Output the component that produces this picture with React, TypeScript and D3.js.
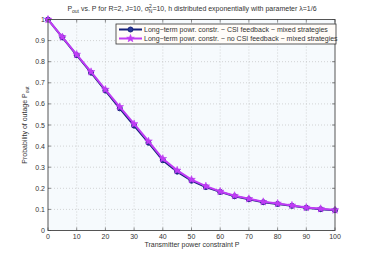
import React from "react";
import * as d3 from "d3";

const powers = [0, 5, 10, 15, 20, 25, 30, 35, 40, 45, 50, 55, 60, 65, 70, 75, 80, 85, 90, 95, 100];
const csiValues = [1, 0.915, 0.831, 0.748, 0.663, 0.579, 0.497, 0.416, 0.333, 0.279, 0.236, 0.206, 0.183, 0.162, 0.148, 0.134, 0.126, 0.117, 0.108, 0.101, 0.096];
const noCsiValues = [1, 0.917, 0.834, 0.752, 0.668, 0.586, 0.505, 0.423, 0.34, 0.285, 0.241, 0.21, 0.185, 0.165, 0.15, 0.136, 0.128, 0.119, 0.109, 0.103, 0.097];
const xTicks = [0, 10, 20, 30, 40, 50, 60, 70, 80, 90, 100];
const yTicks = [0, 0.1, 0.2, 0.3, 0.4, 0.5, 0.6, 0.7, 0.8, 0.9, 1];
const legendLabels = [
  "Long\u2212term powr. constr. \u2212 CSI feedback \u2212 mixed strategies",
  "Long\u2212term powr. constr. \u2212 no CSI feedback \u2212 mixed strategies",
];

const layout = { left: 48, right: 335, top: 19.5, bottom: 230.5 };
const font = "'Liberation Sans', Arial, sans-serif";
const navy = "#14217a";
const magenta = "#c03cf5";
const textColor = "#333";

const starPath = (cx: number, cy: number, r: number) => {
  const pts: string[] = [];
  for (let i = 0; i < 10; i++) {
    const rr = i % 2 === 0 ? r : r * 0.42;
    const a = -Math.PI / 2 + (i * Math.PI) / 5;
    pts.push(`${cx + rr * Math.cos(a)},${cy + rr * Math.sin(a)}`);
  }
  return "M" + pts.join("L") + "Z";
};

export default function App() {
  const x = d3.scaleLinear().domain([0, 100]).range([layout.left, layout.right]);
  const y = d3.scaleLinear().domain([0, 1]).range([layout.bottom, layout.top]);
  const line = d3
    .line<number>()
    .x((_, i) => x(powers[i]))
    .y((d) => y(d));

  const w = layout.right - layout.left;
  const h = layout.bottom - layout.top;

  return (
    <svg
      width={371}
      height={260}
      style={{ position: "absolute", left: 0, top: 0, fontFamily: font }}
    >
      <rect width={371} height={260} fill="#fff" />
      <rect x={layout.left} y={layout.top} width={w} height={h} fill="#f6fafd" />
      {/* grid */}
      {xTicks.slice(1, -1).map((t) => (
        <line key={"gx" + t} x1={x(t)} x2={x(t)} y1={layout.top} y2={layout.bottom} stroke="#b8b8b8" strokeWidth={0.6} strokeDasharray="1,2" />
      ))}
      {yTicks.slice(1, -1).map((t) => (
        <line key={"gy" + t} x1={layout.left} x2={layout.right} y1={y(t)} y2={y(t)} stroke="#b8b8b8" strokeWidth={0.6} strokeDasharray="1,2" />
      ))}
      {/* ticks */}
      {xTicks.map((t) => (
        <g key={"tx" + t}>
          <line x1={x(t)} x2={x(t)} y1={layout.bottom} y2={layout.bottom - 3} stroke="#444" strokeWidth={0.6} />
          <line x1={x(t)} x2={x(t)} y1={layout.top} y2={layout.top + 3} stroke="#444" strokeWidth={0.6} />
          <text x={x(t)} y={layout.bottom + 8.5} fontSize={7} textAnchor="middle" fill={textColor}>{t}</text>
        </g>
      ))}
      {yTicks.map((t) => (
        <g key={"ty" + t}>
          <line x1={layout.left} x2={layout.left + 3} y1={y(t)} y2={y(t)} stroke="#444" strokeWidth={0.6} />
          <line x1={layout.right} x2={layout.right - 3} y1={y(t)} y2={y(t)} stroke="#444" strokeWidth={0.6} />
          <text x={layout.left - 3} y={y(t) + 2.5} fontSize={7} textAnchor="end" fill={textColor}>
            {t === 0 || t === 1 ? String(t) : t.toFixed(1)}
          </text>
        </g>
      ))}
      {/* series */}
      <path d={line(csiValues) ?? ""} fill="none" stroke={navy} strokeWidth={2} />
      {csiValues.map((v, i) => (
        <circle key={"c" + i} cx={x(powers[i])} cy={y(v)} r={2.5} fill="#2a3a9a" stroke={navy} strokeWidth={1} />
      ))}
      <path d={line(noCsiValues) ?? ""} fill="none" stroke={magenta} strokeWidth={2} />
      {noCsiValues.map((v, i) => (
        <path key={"s" + i} d={starPath(x(powers[i]), y(v), 4)} fill={magenta} stroke={magenta} strokeWidth={0.6} />
      ))}
      {/* axes box */}
      <rect x={layout.left} y={layout.top} width={w} height={h} fill="none" stroke="#444" strokeWidth={0.9} />
      {/* legend */}
      <rect x={116} y={24} width={220} height={20} fill="#fffcf8" stroke="#333" strokeWidth={0.8} />
      <line x1={119} x2={142} y1={29.5} y2={29.5} stroke={navy} strokeWidth={2} />
      <circle cx={130.5} cy={29.5} r={2.5} fill="#2a3a9a" stroke={navy} strokeWidth={1} />
      <text x={144} y={32} fontSize={7} fill={textColor}>{legendLabels[0]}</text>
      <line x1={119} x2={142} y1={38.5} y2={38.5} stroke={magenta} strokeWidth={2} />
      <path d={starPath(130.5, 38.5, 4)} fill={magenta} stroke={magenta} strokeWidth={0.6} />
      <text x={144} y={41} fontSize={7} fill={textColor}>{legendLabels[1]}</text>
      {/* title */}
      <text x={192} y={11} fontSize={7} textAnchor="middle" fill={textColor}>
        <tspan>P</tspan>
        <tspan fontSize={5} dy={2}>out</tspan>
        <tspan dy={-2}> vs. P for R=2, J=10, σ</tspan>
        <tspan fontSize={5} dy={-3}>2</tspan>
        <tspan fontSize={5} dx={-3} dy={5}>N</tspan>
        <tspan dy={-2}>=10, h distributed exponentially with parameter λ=1/6</tspan>
      </text>
      {/* axis labels */}
      <text x={192} y={247} fontSize={7} textAnchor="middle" fill={textColor}>Transmitter power constraint P</text>
      <text transform={`translate(27,${(layout.top + layout.bottom) / 2}) rotate(-90)`} fontSize={7} textAnchor="middle" fill={textColor}>
        <tspan>Probability of outage P</tspan>
        <tspan fontSize={5} dy={2}>out</tspan>
      </text>
    </svg>
  );
}
